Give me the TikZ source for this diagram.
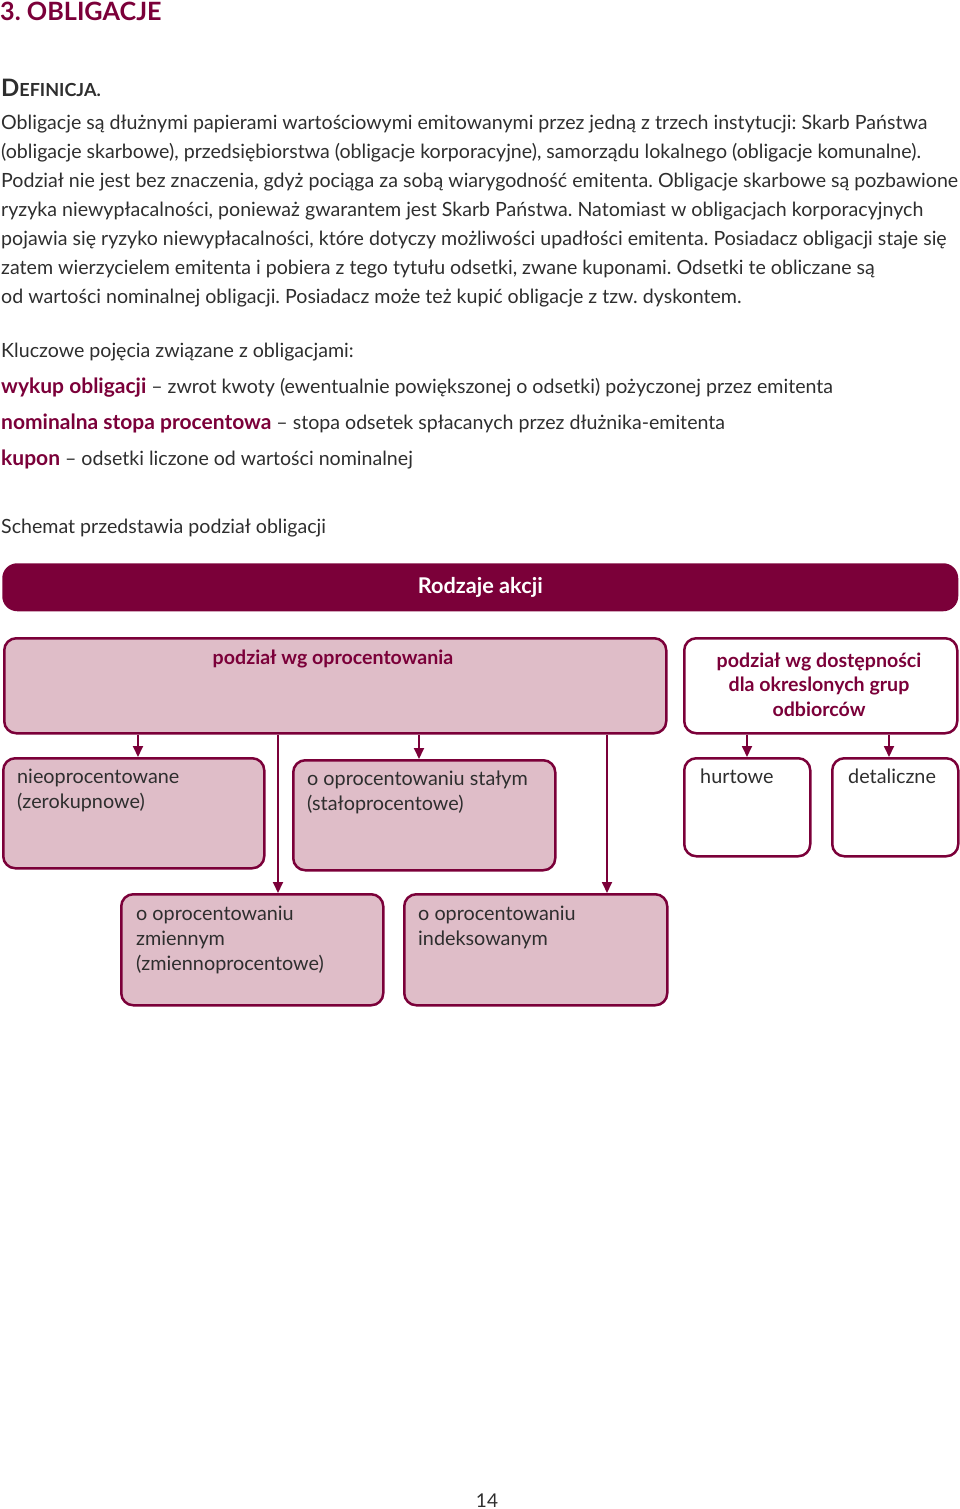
\documentclass[tikz,border=0pt]{standalone}
\usepackage{fontspec}
\setmainfont{Lato}
\usetikzlibrary{arrows.meta}
\definecolor{bordo}{HTML}{7B0039}
\definecolor{roz}{HTML}{DFBDC8}
\definecolor{tekst}{HTML}{2E2E2E}
\frenchspacing

\begin{document}
\begin{tikzpicture}[x=1pt,y=-1pt,
  txt/.style={anchor=base west,inner sep=0pt,text=tekst,font=\fontsize{19.6}{23}\selectfont},
  inbox/.style={txt,font=\fontsize{19.8}{23}\selectfont},
  hd/.style={anchor=base,inner sep=0pt,text=bordo,font=\fontsize{19.6}{23}\selectfont\bfseries},
  box/.style={draw=bordo,line width=2.5pt,rounded corners=12pt,anchor=north west,inner sep=0pt},
  arr/.style={bordo,line width=1.8pt,-{Triangle[length=11pt,width=10pt]}}]
\useasboundingbox (0,0) rectangle (960,1509);

\node[txt,text=bordo,font=\fontsize{25.2}{30}\selectfont\bfseries] (tyt) at (0,21) {3. OBLIGACJE};
\node[txt,font=\fontsize{18}{22}\selectfont\bfseries] (defn) at (1,97) {{\fontsize{24}{24}\selectfont D}EFINICJA.};

\foreach \l [count=\i] in {{Obligacje są dłużnymi papierami wartościowymi emitowanymi przez jedną z trzech instytucji: Skarb Państwa},
  {(obligacje skarbowe), przedsiębiorstwa (obligacje korporacyjne), samorządu lokalnego (obligacje komunalne).},
  {Podział nie jest bez znaczenia, gdyż pociąga za sobą wiarygodność emitenta. Obligacje skarbowe są pozbawione},
  {ryzyka niewypłacalności, ponieważ gwarantem jest Skarb Państwa. Natomiast w obligacjach korporacyjnych},
  {pojawia się ryzyko niewypłacalności, które dotyczy możliwości upadłości emitenta. Posiadacz obligacji staje się},
  {zatem wierzycielem emitenta i pobiera z tego tytułu odsetki, zwane kuponami. Odsetki te obliczane są},
  {od wartości nominalnej obligacji. Posiadacz może też kupić obligacje z tzw. dyskontem.}}
  \node[txt] (par\i) at (1,{129.5+29*(\i-1)}) {\l};

\node[txt] (klucz) at (1,357) {Kluczowe pojęcia związane z obligacjami:};
\node[txt] (poj1) at (1,393) {{\color{bordo}\fontsize{21}{23}\selectfont\bfseries wykup obligacji} – zwrot kwoty (ewentualnie powiększonej o odsetki) pożyczonej przez emitenta};
\node[txt] (poj2) at (1,429) {{\color{bordo}\fontsize{21}{23}\selectfont\bfseries nominalna stopa procentowa} – stopa odsetek spłacanych przez dłużnika-emitenta};
\node[txt] (poj3) at (1,465) {{\color{bordo}\fontsize{21}{23}\selectfont\bfseries kupon} – odsetki liczone od wartości nominalnej};
\node[txt] (schem) at (1,533) {Schemat przedstawia podział obligacji};

\node[box,draw=none,fill=bordo,rounded corners=15pt,minimum width=956,minimum height=48,
  text=white,font=\fontsize{21.7}{24}\selectfont\bfseries] (rodz) at (1,562) {Rodzaje akcji};

\node[box,fill=roz,minimum width=662,minimum height=95] (opr) at (3,637) {};
\node[box,fill=white,minimum width=273,minimum height=95] (dost) at (683,637) {};
\node[box,fill=roz,minimum width=261,minimum height=110] (c1) at (2,757) {};
\node[box,fill=roz,minimum width=262,minimum height=110] (c2) at (292,759) {};
\node[box,fill=white,minimum width=126,minimum height=98] (e1) at (683,757) {};
\node[box,fill=white,minimum width=126,minimum height=98] (e2) at (831,757) {};
\node[box,fill=roz,minimum width=262,minimum height=111] (d1) at (120,893) {};
\node[box,fill=roz,minimum width=263,minimum height=111] (d2) at (403,893) {};

\node[hd] (oprt) at (333,664) {podział wg oprocentowania};
\foreach \l [count=\i] in {podział wg dostępności,dla okreslonych grup,odbiorców}
  \node[hd] (dostt\i) at (819,{667+24.5*(\i-1)}) {\l};

\foreach \n/\x/\y/\a/\b in {c1/17/783/nieoprocentowane/(zerokupnowe),
  c2/307/785/o oprocentowaniu stałym/(stałoprocentowe),
  d1/136/920/o oprocentowaniu/zmiennym,
  d2/418/920/o oprocentowaniu/indeksowanym}
{
  \node[inbox] (\n a) at (\x,\y) {\a};
  \node[inbox] (\n b) at (\x,\y+25) {\b};
}
\node[inbox] (d1c) at (136,970) {(zmiennoprocentowe)};
\node[inbox] (e1a) at (700,783) {hurtowe};
\node[inbox] (e2a) at (848,783) {detaliczne};

\foreach \n/\x in {a/138,b/278,c/419,d/607,e/747,f/889}
  \coordinate (k\n) at (\x,0);
\draw[arr] (opr.south -| ka) -- (c1.north -| ka);
\draw[arr] (opr.south -| kb) -- (d1.north -| kb);
\draw[arr] (opr.south -| kc) -- (c2.north -| kc);
\draw[arr] (opr.south -| kd) -- (d2.north -| kd);
\draw[arr] (dost.south -| ke) -- (e1.north -| ke);
\draw[arr] (dost.south -| kf) -- (e2.north -| kf);

\node[txt,anchor=base,font=\fontsize{19}{21}\selectfont] (str) at (487,1507) {14};
\end{tikzpicture}
\end{document}
